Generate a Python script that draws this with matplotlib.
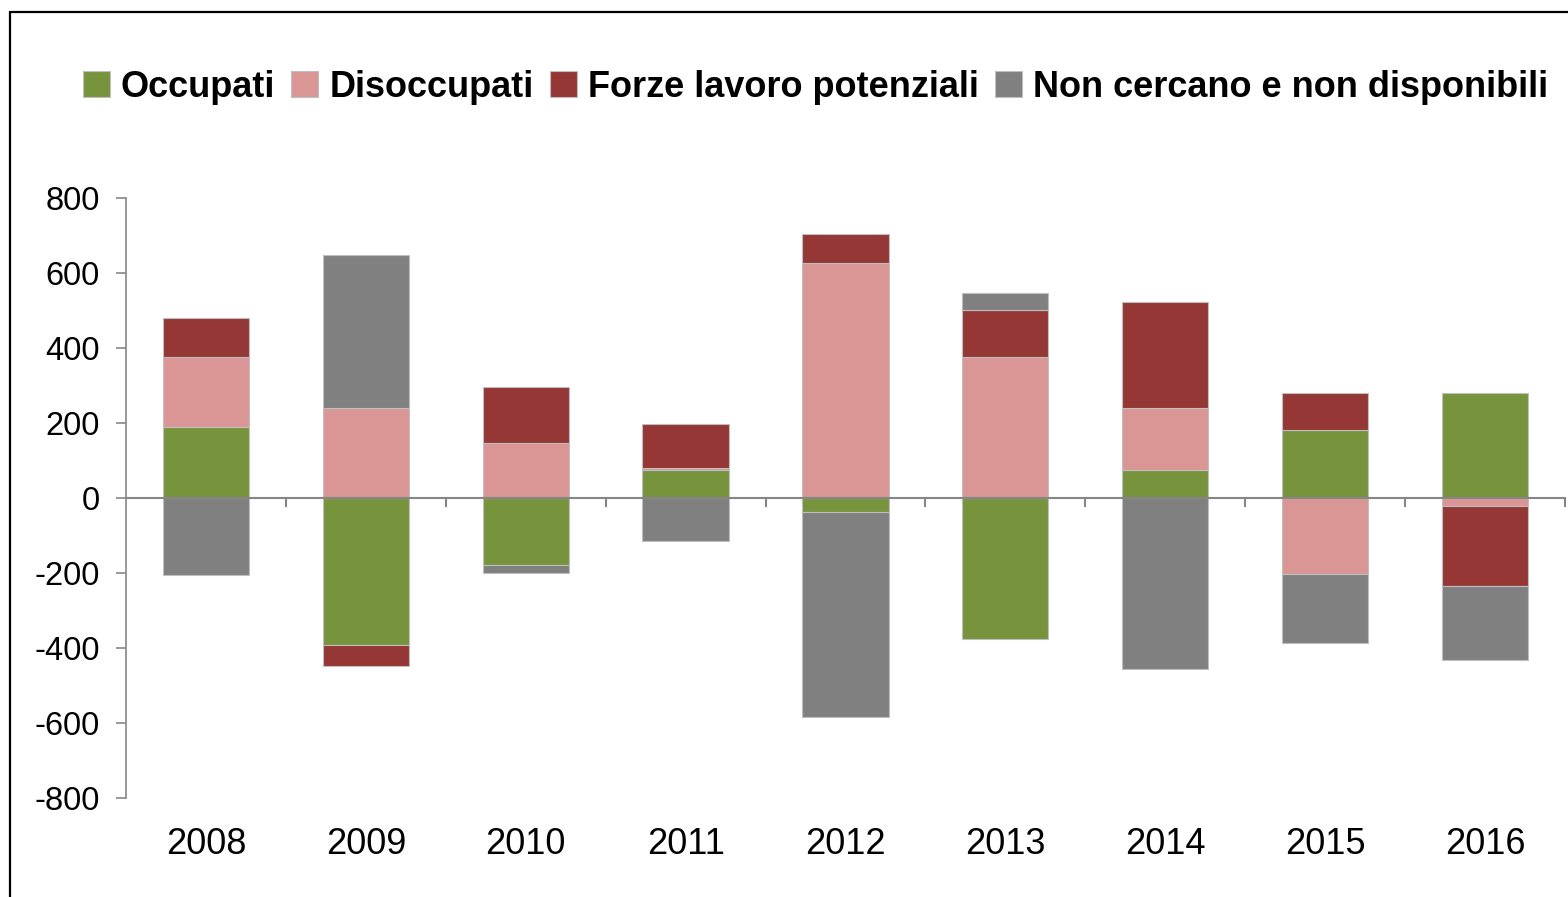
import numpy as np
import matplotlib
import matplotlib.pyplot as plt
from matplotlib.patches import Rectangle

matplotlib.use('Agg')

plt.rcParams['font.family'] = ['Liberation Sans', 'DejaVu Sans']
plt.rcParams['axes.unicode_minus'] = False  # trattino semplice come in Excel

anni = ['2008', '2009', '2010', '2011', '2012', '2013', '2014', '2015', '2016']
serie = ['Occupati', 'Disoccupati', 'Forze lavoro potenziali', 'Non cercano e non disponibili']
occupati = [190, -392, -179, 75, -37, -376, 75, 181, 280]
disoccupati = [186, 240, 147, 5, 627, 376, 165, -203, -21]
forze = [104, -56, 149, 117, 77, 125, 283, 99, -214]
non_cercano = [-205, 408, -21, -115, -547, 46, -456, -184, -197]
colori = ['#77933C', '#D99694', '#953735', '#808080']

fig = plt.figure(figsize=(15.68, 8.97), dpi=100)
ax = fig.add_axes([0.0804, 0.1104, 0.9176, 0.6686])

x = np.arange(len(anni))
pos = np.zeros(len(anni))
neg = np.zeros(len(anni))
for nome, valori, col in zip(serie, [occupati, disoccupati, forze, non_cercano], colori):
    v = np.array(valori, dtype=float)
    base = np.where(v >= 0, pos, neg)
    ax.bar(x, v, 0.54, bottom=base, color=col, edgecolor='#BFBFBF', linewidth=0.8, label=nome, zorder=3)
    pos = pos + np.where(v >= 0, v, 0)
    neg = neg + np.where(v < 0, v, 0)

ax.set_xlim(-0.5, len(anni) - 0.5)
ax.set_ylim(-800, 800)
ax.set_yticks(range(-800, 801, 200))
ax.tick_params(axis='y', labelsize=23.5, length=7, color='#868686', width=1.2, pad=12)

# asse delle categorie sullo zero, etichette in basso
ax.set_xticks([])
ax.axhline(0, color='#868686', linewidth=1.5, zorder=4)
for b in np.arange(0.5, len(anni), 1.0):
    ax.plot([b, b], [0, -22], color='#868686', linewidth=1.5, zorder=4, clip_on=False)
for xi, a in zip(x, anni):
    ax.text(xi, -925, a, ha='center', va='center', fontsize=26)

for s in ['top', 'right', 'bottom']:
    ax.spines[s].set_visible(False)
ax.spines['left'].set_color('#868686')
ax.spines['left'].set_linewidth(1.2)

fig.legend(loc='center', bbox_to_anchor=(0.52, 0.903), ncol=4, frameon=False,
           prop={'size': 26, 'weight': 'bold'}, handlelength=0.75, handleheight=0.75,
           handletextpad=0.3, columnspacing=0.45)

fig.patches.append(Rectangle((10 / 1568, -0.1), 1.2, 1 - 12 / 897 + 0.1, transform=fig.transFigure,
                             fill=False, edgecolor='black', linewidth=1.6))

fig.savefig('out.png', dpi=100)
